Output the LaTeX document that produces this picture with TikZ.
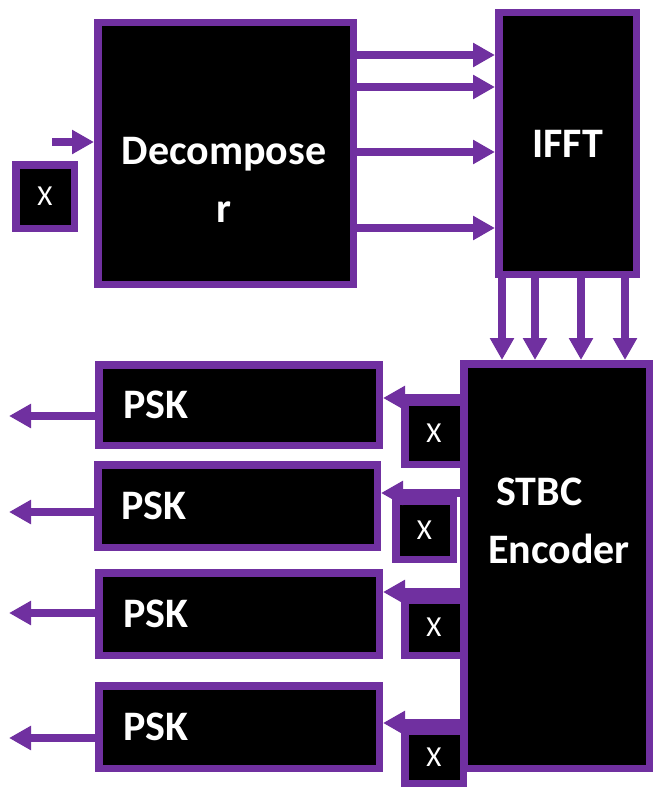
\documentclass[tikz,border=0pt]{standalone}
\usepackage{fontspec}
\setmainfont{Carlito}
\usetikzlibrary{arrows.meta}
\definecolor{ppurple}{HTML}{7030A0}
\begin{document}
\begin{tikzpicture}[x=1pt,y=-1pt,
  blk/.style={draw=ppurple, fill=black, line width=7.5pt, inner sep=0pt, text=white,
    font=\bfseries\fontsize{42}{58}\selectfont},
  xbox/.style={draw=ppurple, fill=black, line width=7.5pt, inner sep=0pt, text=white,
    font=\fontsize{29}{32}\selectfont},
  txt/.style={text=white, inner sep=0pt, font=\bfseries\fontsize{42}{58}\selectfont},
  arr/.style={draw=ppurple, line width=8pt, -{Triangle[length=22pt,width=23pt]}},
]
\useasboundingbox (0,0) rectangle (655,789);

% main blocks
\node[blk, minimum width=255.5pt, minimum height=261.5pt] (dec) at (225.5,153.5) {};
\node[txt, align=center] (dect) at (224,180) {Decompose\\r};
\node[xbox, minimum width=58.5pt, minimum height=63.5pt] (xin) at (45,196.5) {X};
\node[blk, minimum width=137.5pt, minimum height=261.5pt] (ifft) at (567.5,143.5) {IFFT};
\node[blk, minimum width=185.5pt, minimum height=404.5pt] (stbc) at (556.5,566) {};
\node[txt, align=left] (stbct) at (559,521) {\hspace*{8pt}STBC\\Encoder};

% PSK blocks
\node[blk, minimum width=280.5pt, minimum height=80.5pt, text width=232pt, align=left] (psk1) at (239,405) {PSK};
\node[blk, minimum width=279.5pt, minimum height=82.5pt, text width=232pt, align=left] (psk2) at (237.5,506) {PSK};
\node[blk, minimum width=280.5pt, minimum height=82.5pt, text width=232pt, align=left] (psk3) at (239,614) {PSK};
\node[blk, minimum width=280.5pt, minimum height=82.5pt, text width=232pt, align=left] (psk4) at (239,727) {PSK};

% small X boxes
\node[xbox, minimum width=58.5pt, minimum height=62.5pt] (x1) at (434,433) {X};
\node[xbox, minimum width=57.5pt, minimum height=58.5pt] (x2) at (424.5,530) {X};
\node[xbox, minimum width=58.5pt, minimum height=55.5pt] (x3) at (434,627.5) {X};
\node[xbox, minimum width=58.5pt, minimum height=52.5pt] (x4) at (434,757) {X};

% input arrow
\coordinate (in) at (52,142);
\draw[arr] (in) -- (dec.west |- in);

% Decomposer -> IFFT
\foreach \yy in {55,87,152,228}
  \draw[arr] (dec.east |- 0,\yy) -- (ifft.west |- 0,\yy);

% IFFT -> STBC
\foreach \xx in {502,535,581,625}
  \draw[arr] (ifft.south -| \xx,0) -- (stbc.north -| \xx,0);

% STBC -> PSK
\draw[arr] (stbc.west |- 0,398) -- (psk1.east |- 0,398);
\draw[arr] (stbc.west |- 0,493) -- (psk2.east |- 0,493);
\draw[arr] (stbc.west |- 0,592) -- (psk3.east |- 0,592);
\draw[arr] (stbc.west |- 0,723) -- (psk4.east |- 0,723);

% outputs
\coordinate (o1) at (9,416);
\coordinate (o2) at (9,512);
\coordinate (o3) at (9,613);
\coordinate (o4) at (9,738);
\draw[arr] (psk1.west |- o1) -- (o1);
\draw[arr] (psk2.west |- o2) -- (o2);
\draw[arr] (psk3.west |- o3) -- (o3);
\draw[arr] (psk4.west |- o4) -- (o4);
\end{tikzpicture}
\end{document}
